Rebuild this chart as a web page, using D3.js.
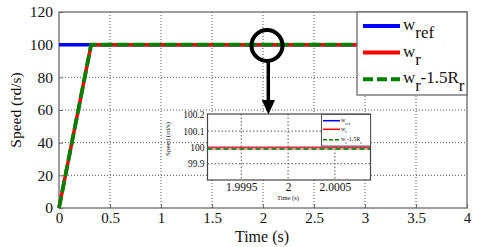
<!DOCTYPE html>
<html><head><meta charset="utf-8">
<script src="https://cdn.jsdelivr.net/npm/d3@7"></script>
<style>html,body{margin:0;padding:0;background:#fff;}svg{display:block;}</style>
</head><body>
<svg id="c" width="480" height="247"></svg>
<script>
// ---- data ----
const time = [0, 0.315, 3];
const wRef = [100, 100, 100];
const wR = [0, 100, 100];
const wRMinus = [0, 100, 100];
const xTicks = [0, 0.5, 1, 1.5, 2, 2.5, 3, 3.5, 4];
const yTicks = [0, 20, 40, 60, 80, 100, 120];
const insetTime = [1.99914, 2.00088];
const insetRef = [100, 100];
const insetWr = [99.999, 99.999];
const insetWrMinus = [99.99, 99.99];
const insetXTicks = [1.9995, 2, 2.0005];
const insetYTicks = [99.9, 100, 100.1, 100.2];
const insetXLabels = ["1.9995", "2", "2.0005"];
const insetYLabels = ["99.9", "100", "100.1", "100.2"];

const svg = d3.select("#c");
const font = "Liberation Serif, Times New Roman, serif";
const gridCol = "#555", frameCol = "#6b6b6b";

// ---- main axes ----
const L = 59, R = 467, T = 12, B = 208;
const x = d3.scaleLinear().domain([0, 4]).range([L, R]);
const y = d3.scaleLinear().domain([0, 120]).range([B, T]);

svg.append("rect").attr("x", L).attr("y", T).attr("width", R - L).attr("height", B - T).attr("fill", "#fff");
const grid = svg.append("g");
xTicks.slice(1, -1).forEach(v => grid.append("line").attr("x1", x(v)).attr("x2", x(v)).attr("y1", T).attr("y2", B)
  .attr("stroke", gridCol).attr("stroke-width", 1).attr("stroke-dasharray", "1,2"));
yTicks.slice(1, -1).forEach(v => grid.append("line").attr("x1", L).attr("x2", R).attr("y1", y(v)).attr("y2", y(v))
  .attr("stroke", gridCol).attr("stroke-width", 1).attr("stroke-dasharray", "1,2"));

const xAxis = d3.axisBottom(x).tickValues(xTicks).tickSize(-4).tickPadding(4).tickFormat(d3.format("~g"));
const yAxis = d3.axisLeft(y).tickValues(yTicks).tickSize(-4).tickPadding(6).tickFormat(d3.format("~g"));
const gx = svg.append("g").attr("transform", `translate(0,${B})`).call(xAxis);
const gy = svg.append("g").attr("transform", `translate(${L},0)`).call(yAxis);
[gx, gy].forEach(g => {
  g.select(".domain").remove();
  g.selectAll("line").attr("stroke", frameCol);
  g.selectAll("text").attr("font-family", font).attr("font-size", 15.5).attr("fill", "#111");
});
gx.selectAll("text").attr("font-size", 15).attr("dy", "0.71em");
svg.append("rect").attr("x", L).attr("y", T).attr("width", R - L).attr("height", B - T)
  .attr("fill", "none").attr("stroke", frameCol).attr("stroke-width", 1.3);

// lines
const line = (arrX, arrY, sx, sy) => d3.line().x((d, i) => sx(arrX[i])).y((d, i) => sy(arrY[i]))(arrY);
svg.append("path").attr("d", line(time, wRef, x, y)).attr("fill", "none").attr("stroke", "#0000ff").attr("stroke-width", 3.5);
svg.append("path").attr("d", line(time, wR, x, y)).attr("fill", "none").attr("stroke", "#ff0000").attr("stroke-width", 3.5);
svg.append("path").attr("d", line(time, wRMinus, x, y)).attr("fill", "none").attr("stroke", "#008000").attr("stroke-width", 3.8)
  .attr("stroke-dasharray", "12,4");

// axis titles
svg.append("text").attr("x", 262).attr("y", 241.5).attr("text-anchor", "middle").attr("font-family", font)
  .attr("font-size", 16).attr("fill", "#111").text("Time (s)");
svg.append("text").attr("transform", "translate(21,110) rotate(-90)").attr("text-anchor", "middle").attr("font-family", font)
  .attr("font-size", 15.5).attr("fill", "#111").text("Speed (rd/s)");

// ---- main legend ----
const lg = svg.append("g");
lg.append("rect").attr("x", 357).attr("y", 12).attr("width", 110).attr("height", 83).attr("fill", "#fff")
  .attr("stroke", frameCol).attr("stroke-width", 1.3);
const legendItems = [
  {c: "#0000ff", dash: null, main: "w", sub: "ref", rest: "", sub2: "", yy: 26},
  {c: "#ff0000", dash: null, main: "w", sub: "r", rest: "", sub2: "", yy: 52.5},
  {c: "#008000", dash: "10,4", main: "w", sub: "r", rest: "-1.5R", sub2: "r", yy: 79.3}
];
legendItems.forEach(it => {
  lg.append("line").attr("x1", 363).attr("x2", 400).attr("y1", it.yy).attr("y2", it.yy)
    .attr("stroke", it.c).attr("stroke-width", 4).attr("stroke-dasharray", it.dash);
  const t = lg.append("text").attr("x", 403).attr("y", it.yy + 4).attr("font-family", font).attr("font-size", 17).attr("fill", "#111");
  t.append("tspan").text(it.main);
  t.append("tspan").attr("dy", 8).text(it.sub);
  if (it.rest) {
    t.append("tspan").attr("dy", -8).text(it.rest);
    t.append("tspan").attr("dy", 8).text(it.sub2);
  }
});

// ---- magnifier ----
svg.append("circle").attr("cx", 267).attr("cy", 45.5).attr("r", 15.5).attr("fill", "none").attr("stroke", "#000").attr("stroke-width", 4);
svg.append("line").attr("x1", 268.3).attr("x2", 268.3).attr("y1", 61).attr("y2", 101).attr("stroke", "#000").attr("stroke-width", 3.5);
svg.append("path").attr("d", "M261.8,100 L275,100 L268.4,114.5 Z").attr("fill", "#000");

// ---- inset ----
const iL = 207.5, iR = 370.5, iT = 114, iB = 180;
const ix = d3.scaleLinear().domain([insetTime[0], insetTime[1]]).range([iL, iR]);
const iy = d3.scaleLinear().domain([99.8, 100.205]).range([iB, iT]);
svg.append("rect").attr("x", iL).attr("y", iT).attr("width", iR - iL).attr("height", iB - iT).attr("fill", "#fff");
const ig = svg.append("g");
insetXTicks.forEach(v => ig.append("line").attr("x1", ix(v)).attr("x2", ix(v)).attr("y1", iT).attr("y2", iB)
  .attr("stroke", gridCol).attr("stroke-width", 1).attr("stroke-dasharray", "1.5,2"));
insetYTicks.slice(0, 3).forEach(v => ig.append("line").attr("x1", iL).attr("x2", iR).attr("y1", iy(v)).attr("y2", iy(v))
  .attr("stroke", gridCol).attr("stroke-width", 1).attr("stroke-dasharray", "1.5,2"));
const ixAxis = d3.axisBottom(ix).tickValues(insetXTicks).tickSize(0).tickPadding(3).tickFormat((d, i) => insetXLabels[i]);
const iyAxis = d3.axisLeft(iy).tickValues(insetYTicks).tickSize(0).tickPadding(3).tickFormat((d, i) => insetYLabels[i]);
const igx = svg.append("g").attr("transform", `translate(0,${iB})`).call(ixAxis);
const igy = svg.append("g").attr("transform", `translate(${iL},0)`).call(iyAxis);
[igx, igy].forEach(g => { g.select(".domain").remove(); g.selectAll("text").attr("font-family", font).attr("fill", "#111"); });
igx.selectAll("text").attr("font-size", 11.5).attr("dy", "0.71em");
igy.selectAll("text").attr("font-size", 9.5);

svg.append("path").attr("d", line(insetTime, insetRef, ix, iy)).attr("fill", "none").attr("stroke", "#0000ff").attr("stroke-width", 1.5);
svg.append("path").attr("d", line(insetTime, insetWr, ix, iy)).attr("fill", "none").attr("stroke", "#ff3030").attr("stroke-width", 1.5);
svg.append("path").attr("d", line(insetTime, insetWrMinus, ix, iy)).attr("fill", "none").attr("stroke", "#ff9090").attr("stroke-width", 1.5);
svg.append("path").attr("d", line(insetTime, insetWrMinus, ix, iy)).attr("fill", "none").attr("stroke", "#008000").attr("stroke-width", 1.5)
  .attr("stroke-dasharray", "5,3");
svg.append("rect").attr("x", iL).attr("y", iT).attr("width", iR - iL).attr("height", iB - iT)
  .attr("fill", "none").attr("stroke", "#444").attr("stroke-width", 1.2);

svg.append("text").attr("x", 288).attr("y", 199.5).attr("text-anchor", "middle").attr("font-family", font)
  .attr("font-size", 6.5).attr("fill", "#111").text("Time (s)");
svg.append("text").attr("transform", "translate(170,139) rotate(-90)").attr("text-anchor", "middle").attr("font-family", font)
  .attr("font-size", 7).attr("fill", "#111").text("Speed (rd/s)");

// inset legend
const il = svg.append("g");
il.append("rect").attr("x", 321.5).attr("y", 114.5).attr("width", 49).attr("height", 31.5).attr("fill", "#fff")
  .attr("stroke", "#555").attr("stroke-width", 1);
const insetLegendY = [120.7, 129.3, 139.8];
legendItems.forEach((it, i) => {
  const yy = insetLegendY[i];
  il.append("line").attr("x1", 323).attr("x2", 340).attr("y1", yy).attr("y2", yy)
    .attr("stroke", it.c).attr("stroke-width", 1.5).attr("stroke-dasharray", it.dash ? "4,2" : null);
  const t = il.append("text").attr("x", 341).attr("y", yy + 1.5).attr("font-family", font).attr("font-size", 6).attr("fill", "#111");
  t.append("tspan").text(it.main);
  t.append("tspan").attr("dy", 2.5).attr("font-size", 4.5).text(it.sub);
  if (it.rest) {
    t.append("tspan").attr("dy", -2.5).text(it.rest);
    t.append("tspan").attr("dy", 2.5).attr("font-size", 4.5).text(it.sub2);
  }
});
</script>
</body></html>
